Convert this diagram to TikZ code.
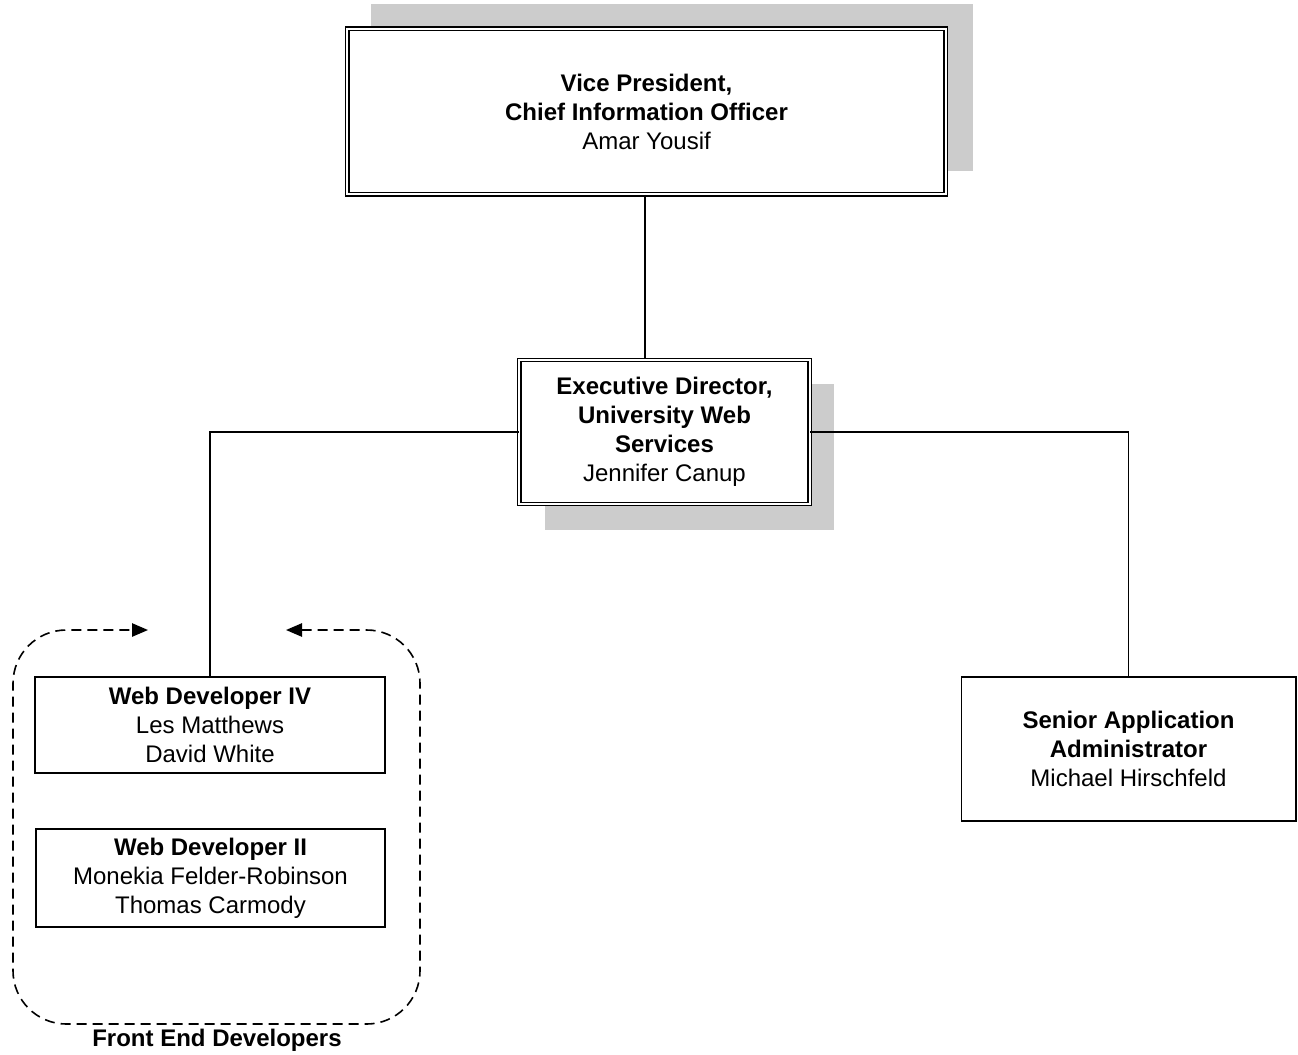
\documentclass[tikz,border=0pt]{standalone}
\usepackage{fontspec}
\setmainfont{Liberation Sans}
\usetikzlibrary{arrows.meta,backgrounds}

\begin{document}
\begin{tikzpicture}[x=0.75pt,y=0.75pt,yscale=-1,xscale=1,
  every node/.style={font=\fontsize{18}{21.75}\selectfont, align=center, inner sep=0pt},
  box/.style={draw, line width=1pt, fill=white},
  dbox/.style={draw, double, line width=0.9pt, double distance=1.8pt, fill=white},
  shade/.style={fill={rgb, 255:red, 204; green, 204; blue, 204}},
  link/.style={line width=0.8pt},
  grp/.style={line width=1.2pt, dash pattern=on 7.5pt off 4.5pt, rounded corners=40pt},
  >={Triangle[length=12pt, width=10pt]}]

\useasboundingbox (0,0) rectangle (1298,1054);

%Shape: Rectangle (double)
\node [dbox, minimum width=449pt, minimum height=124pt] (vp) at (646.5,111.5) {\textbf{Vice President,}\\\textbf{Chief Information Officer}\\Amar Yousif};
%Shape: Rectangle (double)
\node [dbox, minimum width=218pt, minimum height=108pt] (ed) at (664.5,432) {\textbf{Executive Director,}\\\textbf{University Web}\\\textbf{Services}\\Jennifer Canup};
%Shape: Rectangle
\node [box, minimum width=262.5pt, minimum height=72pt] (wd4) at (210,725) {\textbf{Web Developer IV}\\Les Matthews\\David White};
%Shape: Rectangle
\node [box, minimum width=261.75pt, minimum height=73.5pt] (wd2) at (210.5,878) {\textbf{Web Developer II}\\Monekia Felder-Robinson\\Thomas Carmody};
%Shape: Rectangle
\node [box, minimum width=251pt, minimum height=108pt] (saa) at (1128.5,749) {\textbf{Senior Application}\\\textbf{Administrator}\\Michael Hirschfeld};

%Shadows
\begin{scope}[on background layer]
\fill [shade] ([shift={(24,-24)}]vp.south west) rectangle ([shift={(27,-24)}]vp.north east);
\fill [shade] ([shift={(26,25)}]ed.south west) rectangle ([shift={(24,25)}]ed.north east);
\end{scope}

%Straight Lines
\draw [link] (vp.south -| 645,0) -- (ed.north -| 645,0);
\draw [link] (ed.west) -| (wd4.north);
\draw [link] (ed.east) -| (saa.north);

%Shape: Rounded Rectangle (dashed)
\draw [grp, <->] (286,630) -- (420,630) -- (420,1024) -- (13,1024) -- (13,630) -- (148,630);

\node (fed) at (217,1040) {\textbf{Front End Developers}};

\end{tikzpicture}
\end{document}
